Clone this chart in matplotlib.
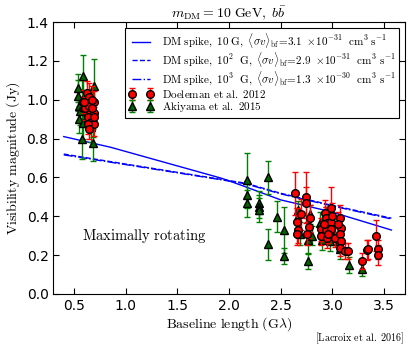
import matplotlib
matplotlib.use("Agg")
import matplotlib.pyplot as plt
import numpy as np

plt.rcParams['mathtext.fontset'] = 'cm'
plt.rcParams['font.family'] = ['DejaVu Sans']

# Model curves
line_x_10 = [0.4, 0.854, 1.93, 2.11, 2.5, 2.98, 3.57]
line_y_10 = [0.81, 0.755, 0.595, 0.561, 0.484, 0.424, 0.329]
line_x_100 = [0.4, 0.854, 1.92, 2.16, 2.5, 2.98, 3.57]
line_y_100 = [0.72, 0.681, 0.59, 0.57, 0.518, 0.458, 0.39]
line_x_1000 = [0.4, 0.854, 1.92, 2.16, 2.5, 2.98, 3.57]
line_y_1000 = [0.716, 0.678, 0.588, 0.567, 0.515, 0.455, 0.386]

# Doeleman et al. 2012
doe_x = [0.62, 0.645, 0.69, 0.655, 0.61, 0.69, 0.63, 0.66, 0.69, 0.63, 0.69, 0.645, 0.675, 0.60, 0.67, 0.64,
         2.64, 2.746, 2.746, 2.70, 2.66, 2.67, 2.66, 2.78, 2.77, 2.755, 2.93, 2.94, 2.945, 2.89, 2.89, 2.94,
         2.99, 2.99, 2.99, 2.945, 3.025, 3.07, 3.08, 3.07, 3.08, 3.07, 3.12, 3.15, 3.29, 3.33, 3.34, 3.42,
         3.44, 3.44, 2.92, 3.00, 2.96, 3.05]
doe_y = [1.036, 1.016, 0.987, 0.94, 0.956, 0.93, 0.913, 0.887, 0.875, 0.875, 0.913, 0.97, 0.955, 0.99, 1.00, 0.85,
         0.518, 0.497, 0.47, 0.41, 0.37, 0.33, 0.31, 0.39, 0.346, 0.31, 0.415, 0.39, 0.367, 0.333, 0.30, 0.33,
         0.44, 0.37, 0.335, 0.287, 0.29, 0.39, 0.338, 0.31, 0.275, 0.235, 0.22, 0.22, 0.17, 0.226, 0.23, 0.30,
         0.23, 0.20, 0.36, 0.40, 0.31, 0.36]
doe_err = [0.06, 0.07, 0.06, 0.06, 0.06, 0.06, 0.05, 0.05, 0.06, 0.05, 0.05, 0.06, 0.05, 0.06, 0.07, 0.05,
           0.11, 0.13, 0.08, 0.08, 0.07, 0.07, 0.06, 0.07, 0.06, 0.06, 0.07, 0.06, 0.06, 0.06, 0.05, 0.06,
           0.11, 0.07, 0.06, 0.05, 0.05, 0.07, 0.06, 0.05, 0.05, 0.04, 0.04, 0.04, 0.04, 0.05, 0.05, 0.08,
           0.05, 0.05, 0.06, 0.07, 0.05, 0.06]

# Akiyama et al. 2015
aki_x = [0.54, 0.54, 0.55, 0.56, 0.55, 0.59, 0.58, 0.60, 0.59, 0.58, 0.69, 0.68, 0.68, 0.687, 0.65, 0.63, 0.66,
         2.17, 2.17, 2.17, 2.29, 2.29, 2.29, 2.38, 2.38, 2.46, 2.53, 2.53, 2.67, 2.66, 2.69, 2.76, 2.76,
         2.78, 2.80, 2.88, 2.90, 2.90, 2.98, 2.98, 2.94, 2.99, 3.025, 3.06, 3.07, 3.155, 3.29]
aki_y = [1.06, 1.02, 0.97, 0.94, 0.90, 1.12, 1.00, 0.96, 0.88, 0.796, 1.07, 0.95, 0.90, 0.775, 0.93, 0.97, 0.86,
         0.587, 0.51, 0.467, 0.47, 0.45, 0.432, 0.60, 0.256, 0.398, 0.33, 0.196, 0.43, 0.39, 0.31, 0.278, 0.17,
         0.41, 0.30, 0.364, 0.278, 0.33, 0.32, 0.27, 0.40, 0.34, 0.30, 0.27, 0.23, 0.15, 0.13]
aki_err = [0.07, 0.08, 0.08, 0.07, 0.07, 0.11, 0.10, 0.09, 0.08, 0.10, 0.14, 0.10, 0.09, 0.09, 0.08, 0.06, 0.08,
           0.14, 0.07, 0.07, 0.06, 0.06, 0.06, 0.086, 0.08, 0.08, 0.12, 0.04, 0.05, 0.05, 0.06, 0.07, 0.04,
           0.05, 0.05, 0.06, 0.05, 0.06, 0.05, 0.05, 0.05, 0.05, 0.05, 0.05, 0.05, 0.04, 0.04]

fig = plt.figure(figsize=(4.11, 3.52), dpi=100)
ax = fig.add_axes([0.13, 0.165, 0.855, 0.7725])

l1, = ax.plot(line_x_10, line_y_10, '-', color='#0000ff', lw=1.0,
              label=r'$\mathrm{DM\ spike,\ 10\ G,}\ \langle\sigma v\rangle_{\rm bf}\!=\!3.1\ \times\!10^{-31}\ \ \mathrm{cm^3\ s^{-1}}$')
l2, = ax.plot(line_x_100, line_y_100, '--', color='#0000ff', lw=1.0,
              label=r'$\mathrm{DM\ spike,\ 10^2\ \ G,}\ \langle\sigma v\rangle_{\rm bf}\!=\!2.9\ \times\!10^{-31}\ \ \mathrm{cm^3\ s^{-1}}$')
l3, = ax.plot(line_x_1000, line_y_1000, '-.', color='#0000ff', lw=1.0,
              label=r'$\mathrm{DM\ spike,\ 10^3\ \ G,}\ \langle\sigma v\rangle_{\rm bf}\!=\!1.3\ \times\!10^{-30}\ \ \mathrm{cm^3\ s^{-1}}$')

e2 = ax.errorbar(aki_x, aki_y, yerr=aki_err, fmt='^', color='green', ecolor='green',
                 markerfacecolor='#006400', markeredgecolor='black', markersize=5.5, capsize=2,
                 elinewidth=1, label=r'$\mathrm{Akiyama\ et\ al.\ 2015}$', zorder=3)
e1 = ax.errorbar(doe_x, doe_y, yerr=doe_err, fmt='o', color='red', ecolor='red',
                 markerfacecolor='red', markeredgecolor='black', markersize=5.5, capsize=2,
                 elinewidth=1, label=r'$\mathrm{Doeleman\ et\ al.\ 2012}$', zorder=4)

ax.set_xlim(0.3, 3.7)
ax.set_ylim(0.0, 1.4)
ax.set_xticks([0.5, 1.0, 1.5, 2.0, 2.5, 3.0, 3.5])
ax.set_yticks([0.0, 0.2, 0.4, 0.6, 0.8, 1.0, 1.2, 1.4])
ax.tick_params(direction='in', top=True, right=True, length=4, labelsize=10)

ax.set_xlabel(r'$\mathrm{Baseline\ length\ (G}\lambda\mathrm{)}$', fontsize=10, labelpad=2)
ax.set_ylabel(r'$\mathrm{Visibility\ magnitude\ (Jy)}$', fontsize=10, labelpad=3)
ax.set_title(r'$m_{\rm DM}=10\ \mathrm{GeV},\ b\bar{b}$', fontsize=10, pad=3)

ax.text(0.58, 0.28, r'$\mathrm{Maximally\ rotating}$', fontsize=10.5)
fig.text(0.985, 0.03, r'$\mathrm{[Lacroix\ et\ al.\ 2016]}$', fontsize=7.3, ha='right')

leg = ax.legend(handles=[l1, l2, l3, e1, e2], loc='upper right', fontsize=8, numpoints=2,
                fancybox=False, edgecolor='black', framealpha=1, handlelength=2.2,
                labelspacing=0.0, borderaxespad=0.5, borderpad=0.35)
leg.get_frame().set_linewidth(0.8)

fig.savefig('out.png', dpi=100)
